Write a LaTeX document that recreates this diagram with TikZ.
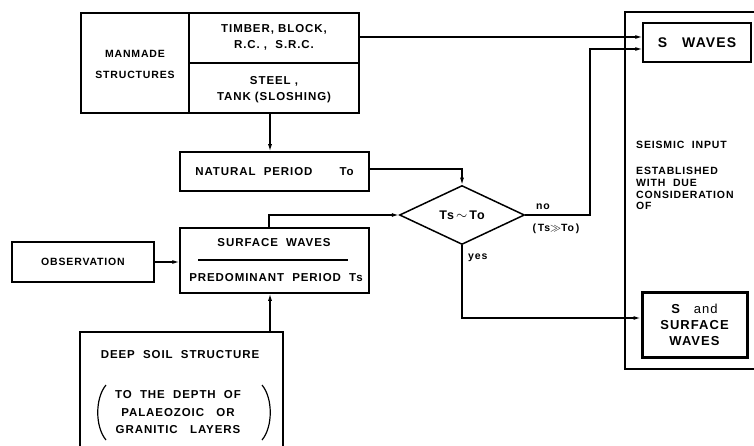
\documentclass[tikz,border=0pt]{standalone}
\usepackage{fontspec}
\setmainfont{Liberation Sans}[LetterSpace=8]
\usetikzlibrary{arrows.meta,shapes.geometric}
\tikzset{
  box/.style={draw,line width=1.5pt,rectangle,inner sep=0pt,align=center},
  lbl/.style={inner sep=0pt,align=center},
  small/.style={font=\fontsize{10.5}{13}\selectfont\bfseries},
  conn/.style={line width=1.2pt},
  arr/.style={line width=1.2pt,-{Latex[length=7pt,width=4pt]}},
  every node/.style={font=\fontsize{11.5}{14}\selectfont\bfseries},
}
\begin{document}
\begin{tikzpicture}[x=1pt,y=-1pt]
\useasboundingbox (0,0) rectangle (754,446);
% manmade structures
\node[box,minimum width=278,minimum height=100] (mm) at (220,63) {};
\draw[line width=1.3pt] (189,13) -- (189,113);
\draw[line width=1.3pt] (189,63) -- (359,63);
\node[lbl,font=\fontsize{10.5}{21}\selectfont\bfseries] (mmt) at (135,64) {MANMADE\\STRUCTURES};
\node[lbl,font=\fontsize{11.5}{16}\selectfont\bfseries] (tb) at (274,37) {TIMBER, BLOCK,\\R.C. ,\ \ S.R.C.};
\node[lbl,font=\fontsize{11.5}{16}\selectfont\bfseries] (st) at (274,90) {STEEL ,\\TANK (SLOSHING)};
% S waves
\node[box,minimum width=108,minimum height=39,font=\fontsize{14}{16}\selectfont\bfseries] (sw) at (697,42.5) {S\ \ \ WAVES};
% seismic input outer frame
\coordinate (fr1) at (756,12);
\coordinate (fr2) at (625,12);
\coordinate (fr3) at (625,369);
\coordinate (fr4) at (756,369);
\draw[line width=1.5pt] (fr1) -- (fr2) -- (fr3) -- (fr4);
\node[lbl,small,anchor=west] (si) at (636,145) {SEISMIC\ \ INPUT};
\node[lbl,anchor=north west,align=left,font=\fontsize{10.5}{11.8}\selectfont\bfseries] (est) at (636,167) {ESTABLISHED\\WITH\ \ DUE\\CONSIDERATION\\OF};
% natural period
\node[box,minimum width=189,minimum height=39] (np) at (274.5,171.5) {NATURAL\ \ PERIOD\qquad\ To};
% diamond
\node[draw,diamond,line width=1.5pt,minimum width=125,minimum height=59,inner sep=0pt,aspect=2.1,font=\fontsize{12.5}{14}\selectfont\bfseries] (dm) at (462,215) {Ts\,{\Large$\sim$}\,To};
% surface waves
\node[box,minimum width=189,minimum height=65] (sf) at (274.5,260.5) {};
\node[lbl] (sft) at (274,243) {SURFACE\ \ WAVES};
\coordinate (hl1) at (198,260);
\coordinate (hl2) at (348,260);
\draw[line width=1.2pt] (hl1) -- (hl2);
\node[lbl] (pp) at (276,278) {PREDOMINANT\ \ PERIOD\ \ Ts};
% observation
\node[box,small,minimum width=142,minimum height=40] (ob) at (83,262) {OBSERVATION};
% deep soil
\coordinate (ds1) at (80,450);
\coordinate (ds2) at (80,332);
\coordinate (ds3) at (283,332);
\coordinate (ds4) at (283,450);
\draw[line width=1.5pt] (ds1) -- (ds2) -- (ds3) -- (ds4);
\node[lbl] (dst) at (180,355) {DEEP\ \ SOIL\ \ STRUCTURE};
\node[lbl,font=\fontsize{11.5}{17.5}\selectfont\bfseries] (dpt) at (178,412.5) {TO\ \ THE\ \ DEPTH\ \ OF\\PALAEOZOIC\ \ \ OR\\GRANITIC\ \ \ LAYERS};
% parentheses
\coordinate (pl1) at (106,385);
\coordinate (pl2) at (106,440);
\coordinate (pr1) at (262,385);
\coordinate (pr2) at (262,440);
\draw[line width=1.2pt] (pl1) .. controls (95,398) and (95,427) .. (pl2);
\draw[line width=1.2pt] (pr1) .. controls (273,398) and (273,427) .. (pr2);
% S and surface waves
\node[draw,line width=3pt,rectangle,inner sep=0pt,align=center,minimum width=105,minimum height=65,font=\fontsize{13}{16}\selectfont\bfseries] (ssw) at (694.5,324.5) {S\ \ \ {\mdseries and}\\SURFACE\\WAVES};
% labels
\node[lbl,small,anchor=west] (no) at (536,207) {no};
\node[lbl,small] (tst) at (556,229) {(\,Ts$\gg$To\,)};
\node[lbl,small,anchor=west] (yes) at (468,258) {yes};
% connectors
\draw[arr] (mm.east |- 0,37) -- (sw.west |- 0,37);
\coordinate (c1) at (590,215);
\coordinate (c2) at (590,49);
\draw[arr] (dm.east) -- (c1) -- (c2) -- (sw.west |- c2);
\draw[arr] (270,113) -- (np.north -| 270,0);
\coordinate (c3) at (462,169);
\draw[arr] (np.east |- c3) -- (c3) -- (dm.north);
\coordinate (c4) at (269,215);
\draw[arr] (sf.north -| c4) -- (c4) -- (dm.west);
\draw[arr] (ob.east) -- (sf.west |- ob.east);
\draw[arr] (ds2 -| 270,0) -- (sf.south -| 270,0);
\coordinate (c5) at (462,318);
\draw[arr] (dm.south) -- (c5) -- (ssw.west |- c5);
\end{tikzpicture}
\end{document}
